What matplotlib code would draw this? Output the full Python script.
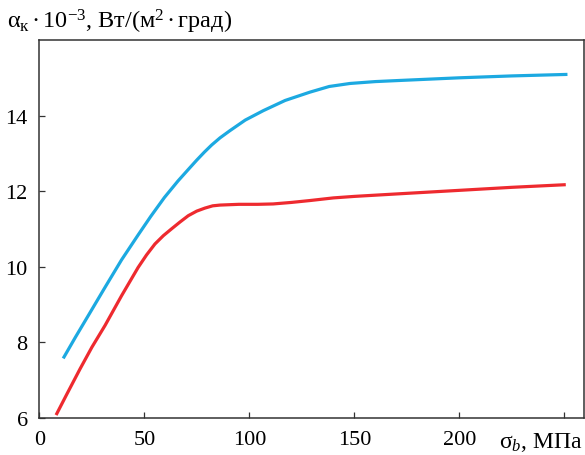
import matplotlib
matplotlib.use("Agg")
import matplotlib.pyplot as plt

plt.rcParams['font.family'] = ['Liberation Serif', 'DejaVu Serif']
plt.rcParams['mathtext.fontset'] = 'custom'
plt.rcParams['mathtext.rm'] = 'Liberation Serif'
plt.rcParams['mathtext.it'] = 'Liberation Serif:italic'

blue_x = [11.3, 17, 23.2, 31.2, 39.1, 47, 53, 59.5, 66, 71, 74.9, 78.5, 82, 86, 90.7, 98, 106.6, 117, 128.8, 138, 147.9, 160, 171.7, 200, 225, 251.5]
blue_y = [7.57, 8.12, 8.70, 9.45, 10.18, 10.84, 11.33, 11.83, 12.27, 12.58, 12.82, 13.03, 13.22, 13.41, 13.60, 13.88, 14.13, 14.40, 14.62, 14.77, 14.85, 14.90, 14.93, 15.00, 15.05, 15.09]

red_x = [7.9, 13, 19.3, 25, 31.2, 39.1, 47, 51, 55, 59, 62.9, 66.9, 70.9, 74.9, 78.8, 82.5, 86, 95, 104, 111.3, 120, 128.8, 140, 150, 171.7, 200, 225, 250.7]
red_y = [6.07, 6.62, 7.29, 7.87, 8.44, 9.23, 9.98, 10.31, 10.60, 10.82, 11.00, 11.18, 11.35, 11.47, 11.55, 11.61, 11.63, 11.65, 11.65, 11.66, 11.70, 11.75, 11.82, 11.86, 11.93, 12.02, 12.10, 12.17]

xticks = [0, 50, 100, 150, 200, 250]
xticklabels = ['0', '50', '100', '150', '200', '']
yticks = [6, 8, 10, 12, 14]

fig = plt.figure(figsize=(5.85, 4.56), dpi=100)
ax = fig.add_axes([0.0675, 0.0818, 0.9305, 0.8282])
ax.plot(blue_x, blue_y, color='#1CA9E1', lw=2.3, solid_capstyle='butt', solid_joinstyle='round')
ax.plot(red_x, red_y, color='#EE2A2F', lw=2.3, solid_capstyle='butt', solid_joinstyle='round')
ax.set_xlim(0, 259.3)
ax.set_ylim(6, 16)
ax.set_xticks(xticks)
ax.set_xticklabels(xticklabels)
ax.set_yticks(yticks)
ax.tick_params(direction='in', length=4, width=0.9, labelsize=16, color='#333333')
ax.tick_params(axis='x', pad=8.5)
ax.tick_params(axis='y', pad=8.5)
for s in ax.spines.values():
    s.set_color('#333333')
    s.set_linewidth(1.1)

fig.text(0.9966, 1 - 448 / 456, r'σ$_{\mathit{b}}$, МПа', ha='right', va='baseline', fontsize=17)
fig.text(0.012, 1 - 28 / 456, r'α$_{\mathrm{к}}$$\,$·$\,$10$^{\mathrm{−3}}$, Вт/(м$^{\mathrm{2}}$$\,$·$\,$град)', ha='left', va='baseline', fontsize=17.5)

fig.savefig('out.png', dpi=100)
